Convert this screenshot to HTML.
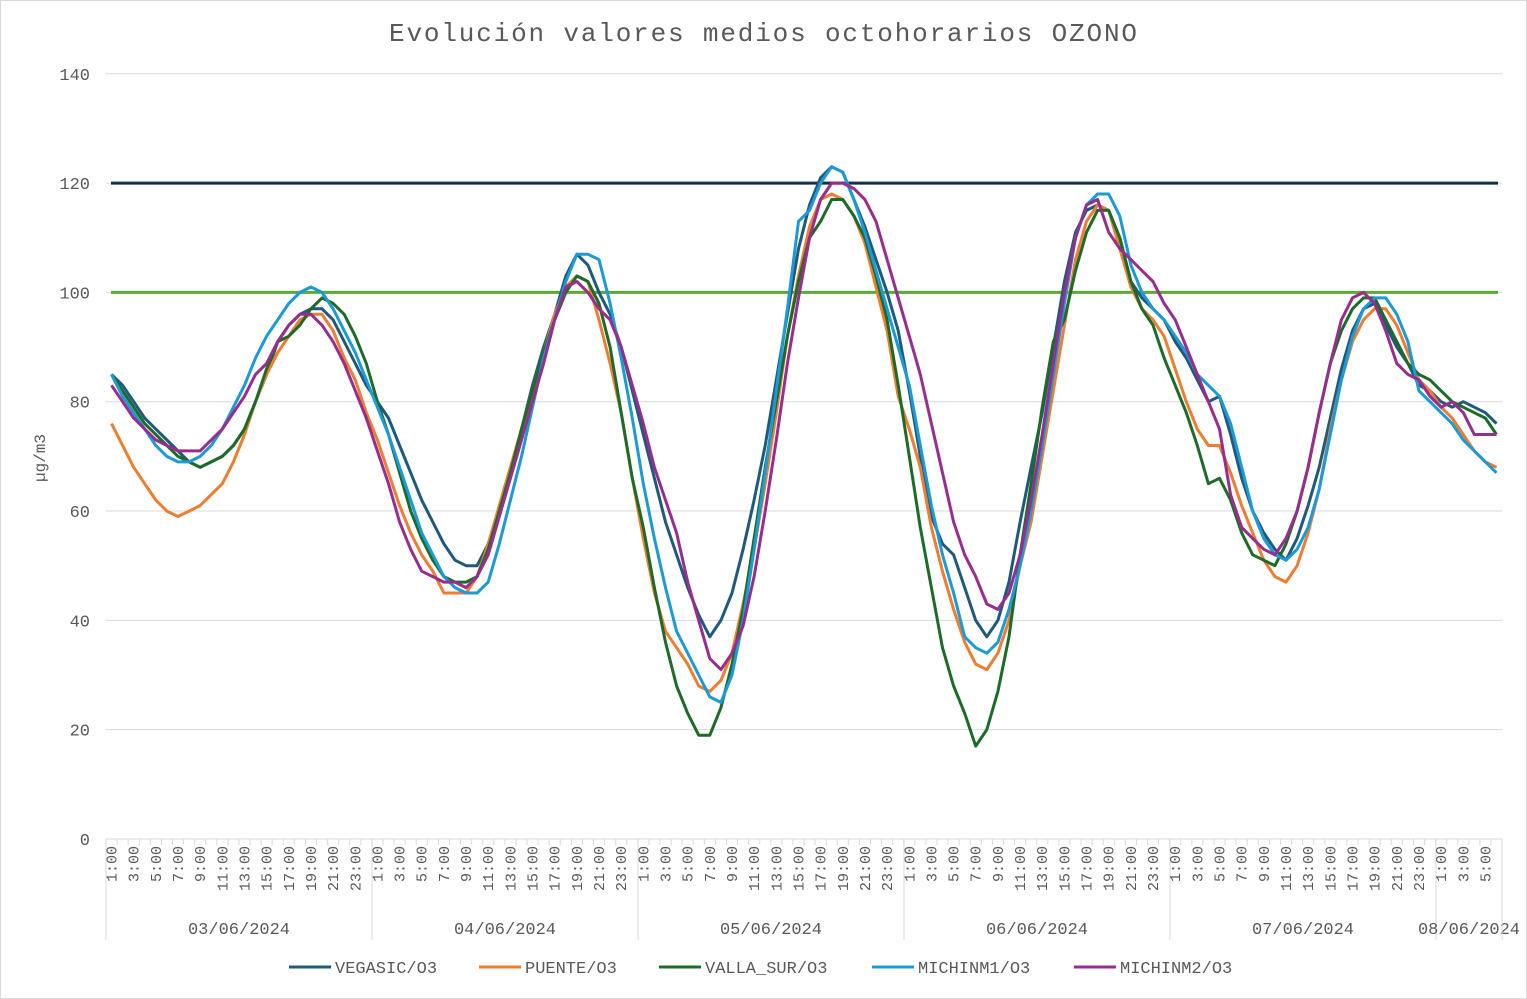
<!DOCTYPE html>
<html><head><meta charset="utf-8"><style>
html,body{margin:0;padding:0;background:#fff}
svg{display:block}
text{font-family:"Liberation Mono",monospace;fill:#595959}
</style></head><body>
<svg id="s" width="1527" height="999" xmlns="http://www.w3.org/2000/svg">
<rect x="0.5" y="0.5" width="1526" height="998" fill="#fff" stroke="#d9d9d9"/>
<text x="763" y="41" font-size="26" text-anchor="middle" textLength="748" lengthAdjust="spacing">Evolución  valores medios octohorarios  OZONO</text>
<text transform="translate(45,458) rotate(-90)" font-size="16" text-anchor="middle">µg/m3</text>
<g id="g"></g>
</svg>
<script>
const NS="http://www.w3.org/2000/svg",g=document.getElementById('g');
function el(t,a,txt){const e=document.createElementNS(NS,t);for(const k in a)e.setAttribute(k,a[k]);if(txt!==undefined)e.textContent=txt;g.appendChild(e);return e;}
const Y=v=>839-v*5.4657, X=i=>111.5+i*11.08;
for(let v=0;v<=140;v+=20){ if(v>0)el('line',{x1:106,x2:1502,y1:Y(v),y2:Y(v),stroke:'#d9d9d9','stroke-width':1});
 el('text',{x:90,y:Y(v)+6,'font-size':17,'text-anchor':'end'},String(v));}
el('line',{x1:106,x2:1502,y1:839,y2:839,stroke:'#d9d9d9'});
for(let i=0;i<126;i++){const x=106+i*11.08;el('line',{x1:x,x2:x,y1:839,y2:845,stroke:'#d9d9d9'});}
const dates=['03/06/2024','04/06/2024','05/06/2024','06/06/2024','07/06/2024','08/06/2024'];
for(let d=0;d<6;d++){const x0=106+d*266;el('line',{x1:x0,x2:x0,y1:839,y2:940,stroke:'#d9d9d9'});
 const n=d<5?24:6;
 for(let h=1;h<=n;h+=2){const cx=X(d*24+h-1)+5;el('text',{transform:`translate(${cx},${846}) rotate(-90)`,'font-size':15,'text-anchor':'end'},h+':00');}
 const cx=d<5?x0+133:1469;el('text',{x:cx,y:934,'font-size':17,'text-anchor':'middle'},dates[d]);}
el('line',{x1:1502,x2:1502,y1:839,y2:940,stroke:'#d9d9d9'});
el('line',{x1:111,x2:1498,y1:Y(120),y2:Y(120),stroke:'#0f3048','stroke-width':3});
el('line',{x1:111,x2:1498,y1:Y(100),y2:Y(100),stroke:'#5aab32','stroke-width':3});
const mi2a=[83,80,77,75,73,72,71,71,71,73,75,78,81,85,87,91,94,96,96,94,91,87,82,77,71,65,58,53,49,48,47,47,46,48,52,59,66,73,80,87,95,101,102,100,97,95,90,83,76,68,62,56,47,40,33,31,34,39,48,60,73,87,99,110,117,120,120,119,117,113,106,99,92,85,76,67,58,52,48,43,42,45,52,62,74,87,100,110,116,117];
const mi2b=[111,108,106,104,102,98,95,90,85,80,75,63,57,55,53,52,55,60,68,78,87,95,99,100,98,93,87,85,84,81,79,80,78,74,74,74];
const S={
veg:['#1f5a7a',[85,83,80,77,75,73,71,69,68,69, 70,72,75,80,85,91,94,96,97,97, 95,91,87,83,80,77,72,67,62,58, 54,51,50,50,54,60,67,75,83,90, 96,103,107,105,100,96,90,82,74,66, 58,52,46,41,37,40,45,53,62,72, 84,96,108,116,121,123,122,117,112,106, 100,93,82,70,59,54,52,46,40,37, 40,47,58,68,78,90,102,111,115,116, 115,110,102,99,97,95,91,88,84,80, 81,74,66,60,56,53,51,55,61,68, 77,86,93,97,98,94,90,87,83,82, 80,79,80,79,78,76]],
pue:['#ed7d31',[76,72,68,65,62,60,59,60,61,63, 65,69,74,80,85,89,92,95,96,96, 93,88,84,78,73,67,61,56,52,49, 45,45,45,48,54,61,68,75,82,89, 96,101,103,102,95,87,78,66,55,45, 38,35,32,28,27,29,34,43,53,65, 78,92,103,112,117,118,117,114,109,101, 93,81,75,68,57,49,42,36,32,31, 34,40,50,58,70,82,94,106,113,116, 115,108,101,97,95,92,86,80,75,72, 72,67,61,56,51,48,47,50,56,64, 75,84,91,95,97,97,94,89,84,82, 79,77,74,71,69,68]],
val:['#1d6b28',[85,82,79,76,74,72,70,69,68,69, 70,72,75,80,86,91,92,94,97,99, 98,96,92,87,80,74,67,60,55,51, 48,47,47,48,53,60,67,75,82,89, 95,100,103,102,98,90,78,66,57,46, 36,28,23,19,19,24,32,42,55,68, 80,92,102,110,113,117,117,114,110,103, 95,83,70,57,46,35,28,23,17,20, 27,37,52,65,79,91,95,104,111,115, 115,110,102,97,94,88,83,78,72,65, 66,62,56,52,51,50,54,60,68,78, 87,93,97,99,99,95,91,87,85,84, 82,80,79,78,77,74]],
mi1:['#1b9ad6',[85,81,78,75,72,70,69,69,70,72, 75,79,83,88,92,95,98,100,101,100, 97,93,89,84,79,74,68,62,56,52, 48,46,45,45,47,54,62,70,79,88, 95,102,107,107,106,98,88,77,65,55, 46,38,34,30,26,25,30,40,53,67, 82,97,113,115,120,123,122,117,111,104, 97,90,83,72,61,52,45,37,35,34, 36,42,50,60,72,85,98,110,116,118, 118,114,105,100,97,95,92,89,85,83, 81,76,68,60,55,52,51,53,57,64, 74,84,92,97,99,99,96,91,82,80, 78,76,73,71,69,67]],
mi2:['#972d8d',mi2a.concat(mi2b)]};
for(const k of ['veg','pue','val','mi1','mi2']){const [c,d0]=S[k];const d=d0.slice(0,126);while(d.length<126)d.push(d[d.length-1]);
 el('polyline',{points:d.map((v,i)=>X(i).toFixed(1)+','+Y(v).toFixed(1)).join(' '),fill:'none',stroke:c,'stroke-width':3,'stroke-linejoin':'round'});}
const L=[['VEGASIC/O3','#1f5a7a',289],['PUENTE/O3','#ed7d31',479],['VALLA_SUR/O3','#1d6b28',659],['MICHINM1/O3','#1b9ad6',872],['MICHINM2/O3','#972d8d',1074]];
for(const [t,c,x] of L){el('line',{x1:x,x2:x+42,y1:967,y2:967,stroke:c,'stroke-width':3});el('text',{x:x+46,y:973,'font-size':17},t);}
</script>
</body></html>
